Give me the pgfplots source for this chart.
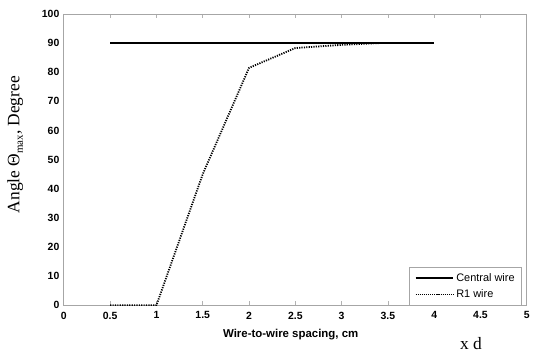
\documentclass[border=0pt]{standalone}
\usepackage{pgfplots}
\pgfplotsset{compat=1.18}
\usepackage{fontspec}
\setmainfont{Liberation Serif}
\setsansfont{Liberation Sans}
\begin{document}
\begin{tikzpicture}
\begin{axis}[
  scale only axis,
  width=464bp, height=292bp,
  xmin=0, xmax=5, ymin=0, ymax=100,
  xtick={0,0.5,...,5},
  ytick={0,10,...,100},
  xticklabels={0,0.5,1,1.5,2,2.5,3,3.5,4,4.5,5},
  x axis line style={draw=none},
  y axis line style={draw=gray!70, line width=0.8pt},
  ytick style={draw=none},
  xtick style={draw=gray!60, line width=0.8pt},
  major tick length=4bp,
  tick label style={font=\sffamily\bfseries\fontsize{10.5}{12}\selectfont},
  /pgf/number format/assume math mode=true,
  xticklabel style={yshift=-3bp},
  yticklabel style={xshift=-1bp},
  xlabel={\sffamily\bfseries Wire-to-wire spacing, cm},
  xlabel style={font=\fontsize{11.5}{13}\selectfont, at={(axis description cs:0.49,0)}, anchor=north, yshift=-20bp},
  ylabel={Angle Θ\raisebox{-0.45ex}{\fontsize{11}{12}\selectfont max}, Degree},
  ylabel style={font=\fontsize{17.5}{20}\selectfont, yshift=12bp, xshift=15bp},
  legend style={at={(axis cs:5,0)}, anchor=south east, xshift=-5bp,
    draw=gray!70, fill=white, font=\sffamily\fontsize{11}{13}\selectfont,
    inner xsep=5pt, inner ysep=4.5pt, row sep=2.5pt, cells={anchor=west}},
  legend image code/.code={\draw[#1] (0bp,0bp) -- (38bp,0bp);},
]
\addplot[black, line width=2pt, forget plot] coordinates {(0.5,90) (4,90)};
\addplot[black, line width=1.8pt, dash pattern=on 1.2pt off 1.2pt, forget plot] coordinates {
(0.5,0) (1,0) (1.5,45) (2,81.5) (2.5,88.3) (3,89.4) (3.4,90)};
\addlegendimage{black, line width=1.8pt}
\addlegendentry{Central wire}
\addlegendimage{black, line width=0.6pt, dash pattern=on 1.2pt off 0.9pt}
\addlegendentry{R1 wire}
\end{axis}
\node[font=\fontsize{17.5}{20}\selectfont] at (408bp,-38bp) {x d};
\useasboundingbox (-64bp,-48bp) rectangle (469bp,306bp);
\end{tikzpicture}
\end{document}
